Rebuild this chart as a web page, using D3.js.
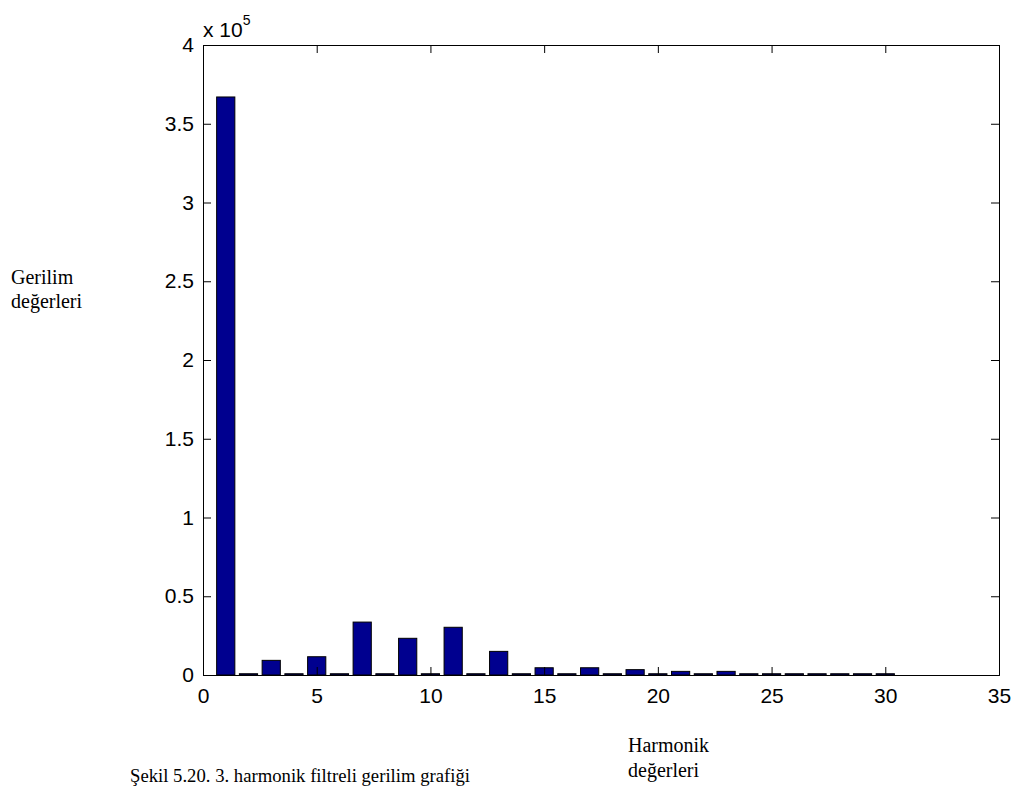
<!DOCTYPE html>
<html><head><meta charset="utf-8">
<script src="https://cdn.jsdelivr.net/npm/d3@7"></script>
<style>body{margin:0;background:#fff}</style>
</head><body>
<script>
const harmonics = d3.range(1, 31);
const values = [3.67, 0.008, 0.093, 0.008, 0.116, 0.008, 0.336, 0.008, 0.233, 0.008,
                0.303, 0.008, 0.150, 0.008, 0.046, 0.008, 0.046, 0.008, 0.034, 0.008,
                0.023, 0.008, 0.023, 0.008, 0.008, 0.008, 0.008, 0.008, 0.008, 0.008]; // x 10^5
const xTicks = [0, 5, 10, 15, 20, 25, 30, 35];
const yTicks = [0, 0.5, 1, 1.5, 2, 2.5, 3, 3.5, 4];

const W = 1019, H = 793;
const L = 203, R = 999, T = 45, B = 675;
const svg = d3.select("body").append("svg").attr("width", W).attr("height", H);
const x = d3.scaleLinear().domain([0, 35]).range([L, R]);
const y = d3.scaleLinear().domain([0, 4]).range([B, T]);
const barW = 0.8;

svg.append("g").selectAll("rect").data(values).join("rect")
  .attr("x", (d, i) => x(harmonics[i] - barW / 2))
  .attr("y", d => y(d))
  .attr("width", x(barW) - x(0))
  .attr("height", d => y(0) - y(d))
  .attr("fill", "#00008f").attr("stroke", "#000").attr("stroke-width", 1);

const tl = 8;
const font = "'Liberation Sans', Arial, sans-serif";
const axB = svg.append("g").attr("transform", `translate(0,${B})`)
  .call(d3.axisBottom(x).tickValues(xTicks).tickSize(-tl).tickPadding(13));
const axT = svg.append("g").attr("transform", `translate(0,${T})`)
  .call(d3.axisTop(x).tickValues(xTicks).tickSize(-tl).tickFormat(""));
const axL = svg.append("g").attr("transform", `translate(${L},0)`)
  .call(d3.axisLeft(y).tickValues(yTicks).tickSize(-tl).tickPadding(9).tickFormat(d3.format("")));
const axR = svg.append("g").attr("transform", `translate(${R},0)`)
  .call(d3.axisRight(y).tickValues(yTicks).tickSize(-tl).tickFormat(""));
[axB, axT, axL, axR].forEach(a => {
  a.select(".domain").attr("stroke", "#000").attr("stroke-width", 1);
  a.selectAll("line").attr("stroke", "#000");
  a.selectAll("text").attr("font-family", font).attr("font-size", 21).attr("fill", "#000");
});
axB.selectAll("text").attr("dy", "0.71em");

const exp = svg.append("text").attr("x", 203).attr("y", 37)
  .attr("font-family", font).attr("font-size", 21);
exp.append("tspan").text("x 10");
exp.append("tspan").attr("dy", -12).attr("font-size", 14).text("5");

const serif = "'Liberation Serif', 'Times New Roman', serif";
const lab = (t, xx, yy, s) => svg.append("text").attr("x", xx).attr("y", yy)
  .attr("font-family", serif).attr("font-size", s).attr("fill", "#000").text(t);
lab("Gerilim", 11, 284, 20);
lab("değerleri", 11, 308, 20);
lab("Harmonik", 628, 752, 20);
lab("değerleri", 628, 777, 20);
lab("Şekil 5.20. 3. harmonik filtreli gerilim grafiği", 130, 782, 19)
  .attr("textLength", 340).attr("lengthAdjust", "spacingAndGlyphs");
</script>
</body></html>
